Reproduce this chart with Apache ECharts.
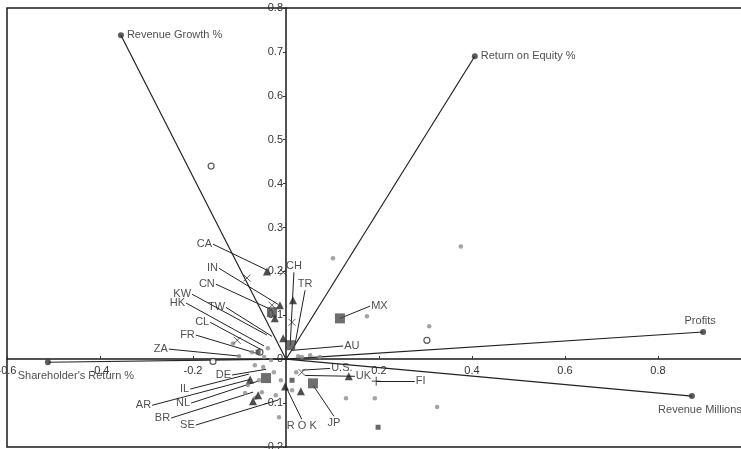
<!DOCTYPE html>
<html>
<head>
<meta charset="utf-8">
<script src="https://cdn.jsdelivr.net/npm/echarts@6/dist/echarts.min.js"></script>
<style>
html, body { margin: 0; padding: 0; background: #fff; }
#chart { width: 741px; height: 449px; }
</style>
</head>
<body>
<div id="chart"></div>
<script>
// loadings (arrows from the origin)
var vectorNames = ['Revenue Growth %', 'Return on Equity %', 'Profits', 'Revenue Millions', "Shareholder's Return %"];
var vectorX = [-0.355, 0.406, 0.897, 0.873, -0.512];
var vectorY = [0.738, 0.690, 0.062, -0.084, -0.007];

// labelled countries: label anchor and the point it refers to
var countries = ['CA', 'IN', 'CN', 'KW', 'HK', 'TW', 'CL', 'FR', 'ZA', 'CH', 'TR', 'MX', 'AU', 'U.S.', 'UK', 'FI', 'JP', 'R O K', 'DE', 'IL', 'AR', 'NL', 'BR', 'SE'];
var anchorX = [-0.157, -0.144, -0.151, -0.202, -0.215, -0.129, -0.163, -0.194, -0.252, 0.017, 0.041, 0.181, 0.123, 0.095, 0.148, 0.277, 0.103, 0.034, -0.116, -0.206, -0.288, -0.204, -0.247, -0.194];
var anchorY = [0.262, 0.207, 0.171, 0.148, 0.128, 0.118, 0.084, 0.055, 0.023, 0.198, 0.157, 0.121, 0.030, -0.021, -0.039, -0.050, -0.130, -0.137, -0.036, -0.068, -0.105, -0.100, -0.134, -0.150];
var pointX = [-0.041, -0.017, -0.030, -0.041, -0.047, -0.030, -0.052, -0.065, -0.099, 0.009, 0.019, 0.116, 0.011, 0.034, 0.041, 0.194, 0.058, -0.002, -0.043, -0.080, -0.077, -0.060, -0.071, -0.017];
var pointY = [0.203, 0.125, 0.112, 0.055, 0.030, 0.052, 0.021, 0.014, 0.007, 0.030, 0.032, 0.093, 0.020, -0.025, -0.037, -0.050, -0.059, -0.059, -0.023, -0.034, -0.046, -0.050, -0.075, -0.093];
var anchorSide = ['left', 'left', 'left', 'left', 'left', 'left', 'left', 'left', 'left', 'top', 'top', 'right', 'right', 'right', 'right', 'right', 'bottom', 'bottom', 'left', 'left', 'left', 'left', 'left', 'left'];

// scores by marker type
var dotX = [0.101, 0.174, 0.308, 0.376, 0.191, 0.325, 0.129, -0.015, -0.049, -0.088, -0.052, -0.082, 0.026, 0.052, 0.073, -0.039, -0.011, 0.022, 0.013, -0.022, -0.101, -0.067, -0.032, -0.047, -0.058, 0.034, -0.026, -0.073, -0.114, -0.066];
var dotY = [0.230, 0.098, 0.075, 0.257, -0.089, -0.109, -0.089, -0.132, -0.018, -0.077, -0.075, -0.059, 0.007, 0.009, 0.005, 0.025, -0.048, -0.030, -0.071, -0.082, 0.007, -0.014, -0.002, 0.005, -0.048, 0.005, -0.030, 0.016, 0.036, -0.088];
var ringX = [-0.161, 0.303, -0.157, -0.056];
var ringY = [0.440, 0.043, -0.005, 0.016];
var bigSquareX = [0.116, 0.009, 0.058, -0.043, -0.030];
var bigSquareY = [0.093, 0.032, -0.055, -0.043, 0.107];
var smallSquareX = [0.198, 0.013, -0.060];
var smallSquareY = [-0.155, -0.048, 0.016];
var triangleX = [-0.041, -0.013, 0.015, -0.006, 0.135, 0.032, -0.077, -0.060, -0.071, -0.002, -0.024];
var triangleY = [0.200, 0.123, 0.134, 0.048, -0.039, -0.073, -0.046, -0.082, -0.096, -0.062, 0.093];
var crossX = [-0.006, -0.084, -0.030, 0.034, -0.105, 0.013];
var crossY = [0.198, 0.185, 0.123, -0.030, 0.043, 0.084];
var plusX = [0.194];
var plusY = [-0.050];

function pairs(xs, ys) {
	var out = [];
	for (var i = 0; i < xs.length; i++) {
		out.push([xs[i], ys[i]]);
	}
	return out;
}

var myChart = echarts.init(document.getElementById('chart'));

var vectorLines = [];
var vectorEnds = [];
for (var i = 0; i < vectorNames.length; i++) {
	vectorLines.push({ coords: [[0, 0], [vectorX[i], vectorY[i]]] });
	vectorEnds.push({ name: vectorNames[i], value: [vectorX[i], vectorY[i]] });
}
var vectorLabel = {
	'Revenue Growth %': { position: 'right', distance: 3 },
	'Return on Equity %': { position: 'right', distance: 3 },
	'Profits': { position: 'top', distance: 3, offset: [-3, 0] },
	'Revenue Millions': { position: 'bottom', distance: 5, offset: [8, 0] },
	"Shareholder's Return %": { position: 'bottom', distance: 5, offset: [28, 0] }
};
vectorEnds.forEach(function(d) {
	d.label = vectorLabel[d.name];
});

var leaderLines = [];
var anchors = [];
for (var i = 0; i < countries.length; i++) {
	leaderLines.push({ coords: [[anchorX[i], anchorY[i]], [pointX[i], pointY[i]]] });
	anchors.push({ name: countries[i], value: [anchorX[i], anchorY[i]], label: { position: anchorSide[i] } });
}

var font = '"Liberation Sans", Arial, sans-serif';
var crossPath = 'path://M0,0L10,10M10,0L0,10';
var plusPath = 'path://M5,0L5,10M0,5L10,5';

// grid: 439px tall for y -0.2..0.8, 465px per unit on x
var gridLeft = 7, gridTop = 8, gridH = 439, gridW = 744;
var xMin = -0.6, xMax = 1.0, yMin = -0.2, yMax = 0.8;

var option = {
	animation: false,
	grid: {
		left: gridLeft,
		top: gridTop,
		width: gridW,
		height: gridH,
		containLabel: false,
		outerBoundsMode: 'none',
		show: true,
		borderColor: '#1a1a1a',
		borderWidth: 1.5
	},
	xAxis: {
		type: 'value',
		min: xMin,
		max: xMax,
		interval: 0.2,
		position: 'bottom',
		offset: -Math.round(gridH * (0 - yMin) / (yMax - yMin)),
		axisLine: { onZero: false, lineStyle: { color: '#1a1a1a', width: 1.5 } },
		axisTick: { inside: true, length: 3, lineStyle: { color: '#333' } },
		axisLabel: {
			color: '#333',
			fontSize: 11,
			fontFamily: font,
			margin: 6,
			formatter: function(v) {
				return Math.abs(v) < 1e-9 ? '' : String(Math.round(v * 10) / 10);
			}
		},
		splitLine: { show: false }
	},
	yAxis: {
		type: 'value',
		min: yMin,
		max: yMax,
		interval: 0.1,
		position: 'left',
		offset: -Math.round(gridW * (0 - xMin) / (xMax - xMin)),
		axisLine: { onZero: false, lineStyle: { color: '#1a1a1a', width: 1.5 } },
		axisTick: { length: 3, lineStyle: { color: '#333' } },
		axisLabel: {
			color: '#333',
			fontSize: 11,
			fontFamily: font,
			margin: 3,
			formatter: function(v) {
				return String(Math.round(v * 10) / 10);
			}
		},
		splitLine: { show: false }
	},
	series: [
		{
			type: 'lines',
			coordinateSystem: 'cartesian2d',
			z: 2,
			lineStyle: { color: '#222', width: 1.2, opacity: 1 },
			data: vectorLines
		},
		{
			type: 'lines',
			coordinateSystem: 'cartesian2d',
			z: 2,
			lineStyle: { color: '#222', width: 1, opacity: 1 },
			data: leaderLines
		},
		{
			type: 'scatter',
			z: 3,
			symbolSize: 4.5,
			itemStyle: { color: '#8c8c8c' },
			data: pairs(dotX, dotY)
		},
		{
			type: 'scatter',
			z: 3,
			symbolSize: 6,
			itemStyle: { color: '#fff', borderColor: '#333', borderWidth: 1.2 },
			data: pairs(ringX, ringY)
		},
		{
			type: 'scatter',
			z: 4,
			symbol: 'rect',
			symbolSize: 10,
			itemStyle: { color: '#4a4a4a' },
			data: pairs(bigSquareX, bigSquareY)
		},
		{
			type: 'scatter',
			z: 4,
			symbol: 'rect',
			symbolSize: 5,
			itemStyle: { color: '#444' },
			data: pairs(smallSquareX, smallSquareY)
		},
		{
			type: 'scatter',
			z: 4,
			symbol: 'triangle',
			symbolSize: 8,
			itemStyle: { color: '#222' },
			data: pairs(triangleX, triangleY)
		},
		{
			type: 'scatter',
			z: 4,
			symbol: crossPath,
			symbolSize: 7,
			itemStyle: { color: 'none', borderColor: '#333', borderWidth: 1 },
			data: pairs(crossX, crossY)
		},
		{
			type: 'scatter',
			z: 4,
			symbol: plusPath,
			symbolSize: 9,
			itemStyle: { color: 'none', borderColor: '#222', borderWidth: 1 },
			data: pairs(plusX, plusY)
		},
		{
			type: 'scatter',
			z: 5,
			symbolSize: 6,
			itemStyle: { color: '#333' },
			label: {
				show: true,
				formatter: '{b}',
				color: '#222',
				fontSize: 11,
				fontFamily: font
			},
			data: vectorEnds
		},
		{
			type: 'scatter',
			z: 5,
			symbolSize: 0,
			label: {
				show: true,
				formatter: '{b}',
				color: '#222',
				fontSize: 11,
				fontFamily: font,
				distance: 1
			},
			data: anchors
		}
	]
};
myChart.setOption(option);
window.onresize = function() {
	myChart.resize();
};
</script>
</body>
</html>
